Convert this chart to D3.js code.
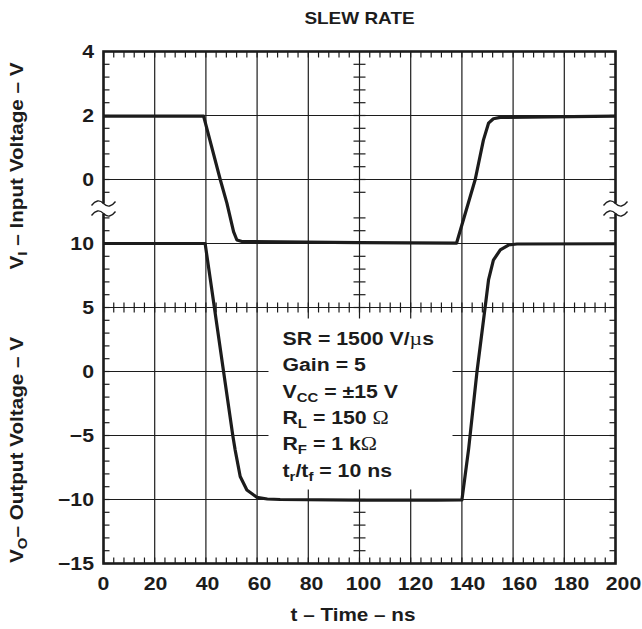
<!DOCTYPE html>
<html>
<head>
<meta charset="utf-8">
<script src="https://cdn.jsdelivr.net/npm/d3@7"></script>
<style>
body { margin: 0; background: #fff; }
text { font-family: "Liberation Sans", Arial, sans-serif; font-weight: bold; fill: #1c1c1c; }
</style>
</head>
<body>
<div id="chart"></div>
<script>
// tick labels
var timeTicks = [0, 20, 40, 60, 80, 100, 120, 140, 160, 180, 200];
var inputTicks = [4, 2, 0];
var outputTicks = [10, 5, 0, -5, -10, -15];

// V_I (input) trace
var inTime = [0, 39.1, 45.6, 48.2, 50.8, 52.1, 54.1, 100, 137.9, 145.2, 148.4, 150.4, 152.3, 155, 200];
var inVolt = [1.98, 1.98, 0, -0.74, -1.63, -1.89, -1.94, -1.97, -1.99, 0, 1.23, 1.76, 1.9, 1.94, 1.98];

// V_O (output) trace
var outTime = [0, 39.7, 42.3, 46.9, 50.5, 51.4, 53.4, 56, 59.9, 64, 69, 100, 130, 140, 142.6, 145.9, 149.1, 150.4, 152.3, 155, 158.2, 161.5, 200];
var outVolt = [10, 10, 6.4, 0, -5, -6.1, -8.2, -9.26, -9.83, -9.96, -10, -10.05, -10.05, -10.04, -6.1, 0, 5.06, 7.15, 8.7, 9.5, 9.88, 9.96, 9.98];

// test conditions box: [text, style] pieces ("sub" = subscript, "sym" = symbol font)
var notes = [
  [["SR = 1500 V/", ""], ["\u00b5", "sym"], ["s", ""]],
  [["Gain = 5", ""]],
  [["V", ""], ["CC", "sub"], [" = \u00b115 V", ""]],
  [["R", ""], ["L", "sub"], [" = 150 ", ""], ["\u03a9", "sym"]],
  [["R", ""], ["F", "sub"], [" = 1 k", ""], ["\u03a9", "sym"]],
  [["t", ""], ["r", "sub"], ["/t", ""], ["f", "sub"], [" = 10 ns", ""]]
];

var margin = { top: 51.5, left: 103.5 };
var width = 512, height = 512;
var ink = "#1c1c1c";
var sx = 1.15; // the lettering in the original is a bit wide

var svg = d3.select("#chart").append("svg")
    .attr("width", 642)
    .attr("height", 629);

var g = svg.append("g")
    .attr("transform", "translate(" + margin.left + "," + margin.top + ")");

var x = d3.scaleLinear().domain([0, 200]).range([0, width]);
// upper part: input volts, lower part: output volts (axis is broken between them)
var yIn = d3.scaleLinear().domain([-2, 4]).range([192, 0]);
var yOut = d3.scaleLinear().domain([-15, 10]).range([height, 192]);

function label(parent, px, py, size, anchor, rot) {
  return parent.append("text")
    .attr("transform", "translate(" + px + "," + py + ")" + (rot ? " rotate(" + rot + ")" : "") + " scale(" + sx + ",1)")
    .attr("text-anchor", anchor)
    .style("font-size", size + "px");
}

// grid
g.selectAll(".vgrid").data(timeTicks).enter().append("line")
    .attr("x1", d => x(d)).attr("x2", d => x(d))
    .attr("y1", 0).attr("y2", height)
    .attr("stroke", ink).attr("stroke-width", 1.2);

var hLines = inputTicks.map(d => yIn(d)).concat(outputTicks.map(d => yOut(d)));
g.selectAll(".hgrid").data(hLines).enter().append("line")
    .attr("x1", 0).attr("x2", width)
    .attr("y1", d => d).attr("y2", d => d)
    .attr("stroke", ink).attr("stroke-width", 1.2);

// minor ticks
var minorX = d3.range(0, 200.01, 4).map(d => x(d));
var minorY = d3.range(-1.6, 4, 0.4).filter(d => Math.abs(d + 0.8) > 0.01).map(d => yIn(d))
    .concat(d3.range(-15, 10, 1).map(d => yOut(d)));
var tl = 6;

function ticks(data, f) {
  g.append("g").selectAll("line").data(data).enter().append("line")
    .each(function (d) { var p = f(d); d3.select(this).attr("x1", p[0]).attr("y1", p[1]).attr("x2", p[2]).attr("y2", p[3]); })
    .attr("stroke", ink).attr("stroke-width", 1.2);
}
ticks(minorX, d => [d, 0, d, tl]);
ticks(minorX, d => [d, height, d, height - tl]);
ticks(minorX, d => [d, yOut(5) - 5, d, yOut(5) + 5]);
ticks(minorY, d => [0, d, tl, d]);
ticks(minorY, d => [width, d, width - tl, d]);
ticks(minorY, d => [x(100) - tl, d, x(100) + tl, d]);

// frame
g.append("rect")
    .attr("width", width).attr("height", height)
    .attr("fill", "none").attr("stroke", ink).attr("stroke-width", 2.6);

// axis breaks
var breakY = 157;
[0, width].forEach(function (bx) {
  g.append("rect").attr("x", bx - 3).attr("y", breakY - 5).attr("width", 6).attr("height", 10).attr("fill", "#fff");
  [-5, 5].forEach(function (off) {
    g.append("path")
      .attr("d", "M-12,2 Q-6,-6 0,0 T12,-2")
      .attr("transform", "translate(" + bx + "," + (breakY + off) + ")")
      .attr("fill", "none").attr("stroke", ink).attr("stroke-width", 1.3);
  });
});

// traces
var inLine = d3.line().x((d, i) => x(inTime[i])).y((d, i) => yIn(inVolt[i]));
var outLine = d3.line().x((d, i) => x(outTime[i])).y((d, i) => yOut(outVolt[i]));

g.append("path").datum(inTime).attr("d", inLine)
    .attr("fill", "none").attr("stroke", ink).attr("stroke-width", 3.2)
    .attr("stroke-linejoin", "round");
g.append("path").datum(outTime).attr("d", outLine)
    .attr("fill", "none").attr("stroke", ink).attr("stroke-width", 3.2)
    .attr("stroke-linejoin", "round");

// condition box
g.append("rect")
    .attr("x", 165).attr("y", 267).attr("width", 184).attr("height", 171)
    .attr("fill", "#fff");

notes.forEach(function (line, i) {
  var t = label(g, 179, 293.5 + i * 26.3, 18.5, "start");
  var shift = 0;
  line.forEach(function (p) {
    var s = t.append("tspan").text(p[0]);
    var want = p[1] === "sub" ? 4 : 0;
    if (want !== shift) { s.attr("dy", want - shift); shift = want; }
    if (p[1] === "sub") s.style("font-size", "13px");
    if (p[1] === "sym") s.style("font-family", "'Liberation Serif', serif").style("font-weight", "normal").style("font-size", "19px");
  });
});

// tick labels
timeTicks.forEach(function (d) {
  label(g, x(d) + d * 0.04, height + 26.5, 18.5, "middle").text(d);
});

inputTicks.map(d => [d, yIn(d)]).concat(outputTicks.map(d => [d, yOut(d)])).forEach(function (d) {
  label(g, -9.5, d[1] + 6.6, 18.5, "end").text(d[0] < 0 ? "\u2212" + Math.abs(d[0]) : d[0]);
});

// titles
label(svg, margin.left + width / 2, 24, 16.5, "middle").text("SLEW RATE");
label(svg, 353, 621, 18, "middle").text("t \u2013 Time \u2013 ns");

function yTitle(cy, main, sub, rest) {
  var t = label(svg, 23, cy, 18, "middle", -90);
  t.append("tspan").text(main);
  t.append("tspan").text(sub).attr("dy", 4).style("font-size", "13px");
  t.append("tspan").text(rest).attr("dy", -4);
}
yTitle(166, "V", "I", " \u2013 Input Voltage \u2013 V");
yTitle(450, "V", "O", "\u2013 Output Voltage \u2013 V");
</script>
</body>
</html>
